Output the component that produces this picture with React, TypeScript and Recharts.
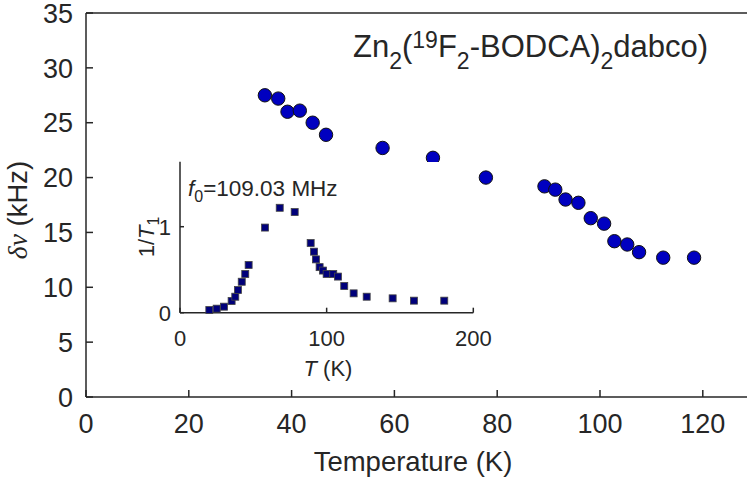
import { ScatterChart, Scatter, XAxis, YAxis } from "recharts";

// main panel: linewidth vs temperature
const mainTemp = [34.8, 37.4, 39.2, 41.6, 44.1, 46.7, 57.7, 67.5, 77.8, 89.2, 91.3, 93.3, 95.8, 98.2, 100.8, 102.8, 105.3, 107.6, 112.3, 118.3];
const mainWidth = [27.5, 27.2, 26.0, 26.1, 25.0, 23.9, 22.7, 21.8, 20.0, 19.2, 18.9, 18.0, 17.7, 16.3, 15.8, 14.2, 13.9, 13.2, 12.7, 12.7];
const mainXTicks = [0, 20, 40, 60, 80, 100, 120];
const mainYTicks = [0, 5, 10, 15, 20, 25, 30, 35];

// inset: 1/T1 vs T
const insetTemp = [20.0, 25.0, 30.0, 35.2, 37.7, 39.5, 42.1, 44.5, 46.8, 58.0, 68.0, 78.2, 89.1, 91.4, 92.7, 95.2, 97.5, 100.0, 104.5, 107.7, 112.0, 118.4, 127.3, 145.0, 159.5, 180.2];
const insetRate = [0.031, 0.047, 0.07, 0.136, 0.186, 0.264, 0.36, 0.45, 0.555, 0.99, 1.22, 1.17, 0.81, 0.71, 0.62, 0.53, 0.49, 0.45, 0.45, 0.42, 0.31, 0.225, 0.186, 0.167, 0.14, 0.14];
const insetXTicks = [0, 100, 200];
const insetYTicks = [0, 1];

const mainData = mainTemp.map((t, i) => ({ t, w: mainWidth[i] }));
const insetData = insetTemp.map((t, i) => ({ t, r: insetRate[i] }));

const INK = "#262626";
const FONT = "'Liberation Sans', Arial, Helvetica, sans-serif";

const Dot = (p: any) => (
  <circle cx={p.cx} cy={p.cy} r={6.7} fill="#0000c0" stroke="#111" strokeWidth={1} />
);
const Sq = (p: any) => (
  <rect x={p.cx - 3.5} y={p.cy - 3.5} width={7} height={7} fill="#00007a" stroke="#444" strokeWidth={0.8} />
);

// matlab style inward ticks, drawn together with the label
const bottomTick = (axisY: number, len: number, labelY: number, size: number) => (p: any) => (
  <g>
    <line x1={p.x} x2={p.x} y1={axisY} y2={axisY - len} stroke={INK} strokeWidth={1.5} />
    {labelY > 0 && (
      <text x={p.x} y={labelY} textAnchor="middle" fontSize={size} fontFamily={FONT} fill={INK}>{p.payload.value}</text>
    )}
  </g>
);
const leftTick = (axisX: number, len: number, labelX: number, size: number) => (p: any) => (
  <g>
    <line x1={axisX} x2={axisX + len} y1={p.y} y2={p.y} stroke={INK} strokeWidth={1.5} />
    {labelX > 0 && (
      <text x={labelX} y={p.y} dy="0.36em" textAnchor="end" fontSize={size} fontFamily={FONT} fill={INK}>{p.payload.value}</text>
    )}
  </g>
);

export default function App() {
  return (
    <div style={{ position: "absolute", left: 0, top: 0, width: 748, height: 484, overflow: "hidden", background: "#fff" }}>
      <div style={{ position: "absolute", left: 0, top: 0 }}>
        <ScatterChart id="mainChart" width={748} height={484} margin={{ top: 12, right: 0, bottom: 27, left: 0 }}>
          <XAxis xAxisId="b" dataKey="t" type="number" domain={[0, 128.6]} ticks={mainXTicks}
            height={60} tickLine={false} stroke={INK} strokeWidth={1.5} tick={bottomTick(397, 7, 432.5, 27)} />
          <XAxis xAxisId="top" orientation="top" type="number" domain={[0, 128.6]} ticks={mainXTicks}
            height={1} tickLine={false} stroke={INK} strokeWidth={1.5} tick={bottomTick(13, -7, 0, 27)} />
          <YAxis yAxisId="l" dataKey="w" type="number" domain={[0, 35]} ticks={mainYTicks}
            width={86} tickLine={false} stroke={INK} strokeWidth={1.5} tick={leftTick(86, 7, 73, 27)} />
          <YAxis yAxisId="r" orientation="right" type="number" domain={[0, 35]} ticks={mainYTicks}
            width={1} axisLine={false} tickLine={false} stroke={INK} tick={leftTick(745, 3, 0, 27)} />
          <Scatter xAxisId="b" yAxisId="l" data={mainData} shape={Dot} isAnimationActive={false} />
        </ScatterChart>
      </div>

      {/* inset axes are opaque, like the original figure */}
      <div style={{ position: "absolute", left: 180, top: 161.7, width: 293.3, height: 151, background: "#fff" }} />
      <div style={{ position: "absolute", left: 100, top: 140 }}>
        <ScatterChart id="insetChart" width={400} height={240} margin={{ top: 21.7, right: 26.7, bottom: 37.3, left: 0 }}>
          <XAxis xAxisId="ib" dataKey="t" type="number" domain={[0, 200]} ticks={insetXTicks}
            height={30} tickLine={false} stroke={INK} strokeWidth={1.5} tick={bottomTick(172.7, 5, 206, 22)} />
          <YAxis yAxisId="il" dataKey="r" type="number" domain={[0, 1.756]} ticks={insetYTicks}
            width={80} tickLine={false} stroke={INK} strokeWidth={1.5} tick={leftTick(80, 4, 71, 22)} />
          <Scatter xAxisId="ib" yAxisId="il" data={insetData} shape={Sq} isAnimationActive={false} />
        </ScatterChart>
      </div>

      <svg width={748} height={484} style={{ position: "absolute", left: 0, top: 0, pointerEvents: "none" }}
        fontFamily={FONT} fill={INK}>
        <text x={353} y={57} fontSize={31}>
          Zn<tspan fontSize={23} dy={12}>2</tspan>
          <tspan dy={-12}>(</tspan>
          <tspan fontSize={23} dy={-9}>19</tspan>
          <tspan dy={9}>F</tspan>
          <tspan fontSize={23} dy={12}>2</tspan>
          <tspan dy={-12}>-BODCA)</tspan>
          <tspan fontSize={23} dy={12}>2</tspan>
          <tspan dy={-12}>dabco)</tspan>
        </text>
        <text x={413} y={471} fontSize={27.5} textAnchor="middle">Temperature (K)</text>
        <text transform="translate(27,210) rotate(-90)" fontSize={27.5} textAnchor="middle">
          <tspan fontFamily="'Liberation Serif', serif" fontStyle="italic">δν</tspan> (kHz)
        </text>
        <text x={188} y={196} fontSize={22.5}>
          <tspan fontStyle="italic">f</tspan>
          <tspan fontSize={16} dy={6}>0</tspan>
          <tspan dy={-6}>=109.03 MHz</tspan>
        </text>
        <text x={328} y={376} fontSize={22} textAnchor="middle">
          <tspan fontStyle="italic">T</tspan> (K)
        </text>
        <text transform="translate(154,237) rotate(-90)" fontSize={22} textAnchor="middle">
          1/<tspan fontStyle="italic">T</tspan>
          <tspan fontSize={16} dy={5}>1</tspan>
        </text>
      </svg>
    </div>
  );
}
